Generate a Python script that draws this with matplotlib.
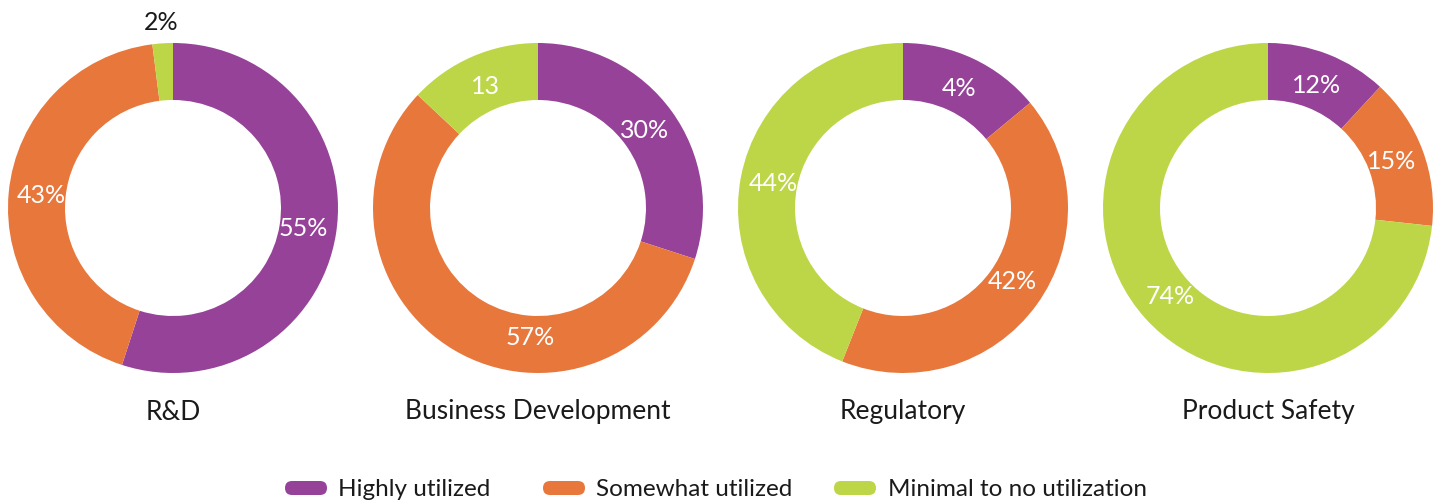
import numpy as np
import matplotlib.pyplot as plt
from matplotlib.patches import FancyBboxPatch

plt.rcParams['font.family'] = ['Lato', 'DejaVu Sans']

# share of respondents per function
categories = ["R&D", "Business Development", "Regulatory", "Product Safety"]
highly = [55, 30, 14, 12]
somewhat = [43, 57, 42, 15]
minimal = [2, 13, 44, 74]
# labels as printed on the rings
labels = [
    ["55%", "43%", "2%"],
    ["30%", "57%", "13"],
    ["4%", "42%", "44%"],
    ["12%", "15%", "74%"],
]
series = ["Highly utilized", "Somewhat utilized", "Minimal to no utilization"]
colors = ["#964299", "#E8773C", "#BDD647"]

W, H = 1440, 504
centers_x = [173, 538, 903, 1268]
cy = H - 208
R_OUT, R_IN = 165, 108

# label tweaks: (chart, wedge) -> (angle shift in degrees, radius)
label_override = {(1, 1): (-27, 130), (0, 2): (0, 186), (2, 1): (-2, 132)}

fig = plt.figure(figsize=(W / 100, H / 100), dpi=100)
ax = fig.add_axes([0, 0, 1, 1])

for i, cat in enumerate(categories):
    vals = [highly[i], somewhat[i], minimal[i]]
    cx = centers_x[i]
    ax.pie(vals, colors=colors, startangle=90, counterclock=False,
           center=(cx, cy), radius=R_OUT,
           wedgeprops=dict(width=R_OUT - R_IN, linewidth=0))
    total = sum(vals)
    acc = 0
    for j, v in enumerate(vals):
        mid = (acc + v / 2) / total * 360
        acc += v
        shift, r = label_override.get((i, j), (0, 132))
        ang = np.deg2rad(90 - (mid + shift))
        x = cx + r * np.cos(ang)
        y = cy + r * np.sin(ang)
        col = "#1a1a1a" if r > R_OUT else "white"
        ax.text(x, y, labels[i][j], ha="center", va="center",
                fontsize=18, color=col)
    ax.text(cx, H - 412, cat, ha="center", va="center",
            fontsize=19, color="#1a1a1a")

ax.set_xlim(0, W)
ax.set_ylim(0, H)
ax.set_aspect("equal")
ax.axis("off")

# legend row
pill_x = [285, 543, 834]
text_x = [338, 596, 888]
ly = H - 488
for k, name in enumerate(series):
    ax.add_patch(FancyBboxPatch((pill_x[k], ly - 7), 42, 14,
                                boxstyle="round,pad=0,rounding_size=7",
                                facecolor=colors[k], edgecolor="none"))
    ax.text(text_x[k], ly - 1, name, ha="left", va="center",
            fontsize=17.5, color="#1a1a1a")

fig.savefig("out.png", dpi=100)
